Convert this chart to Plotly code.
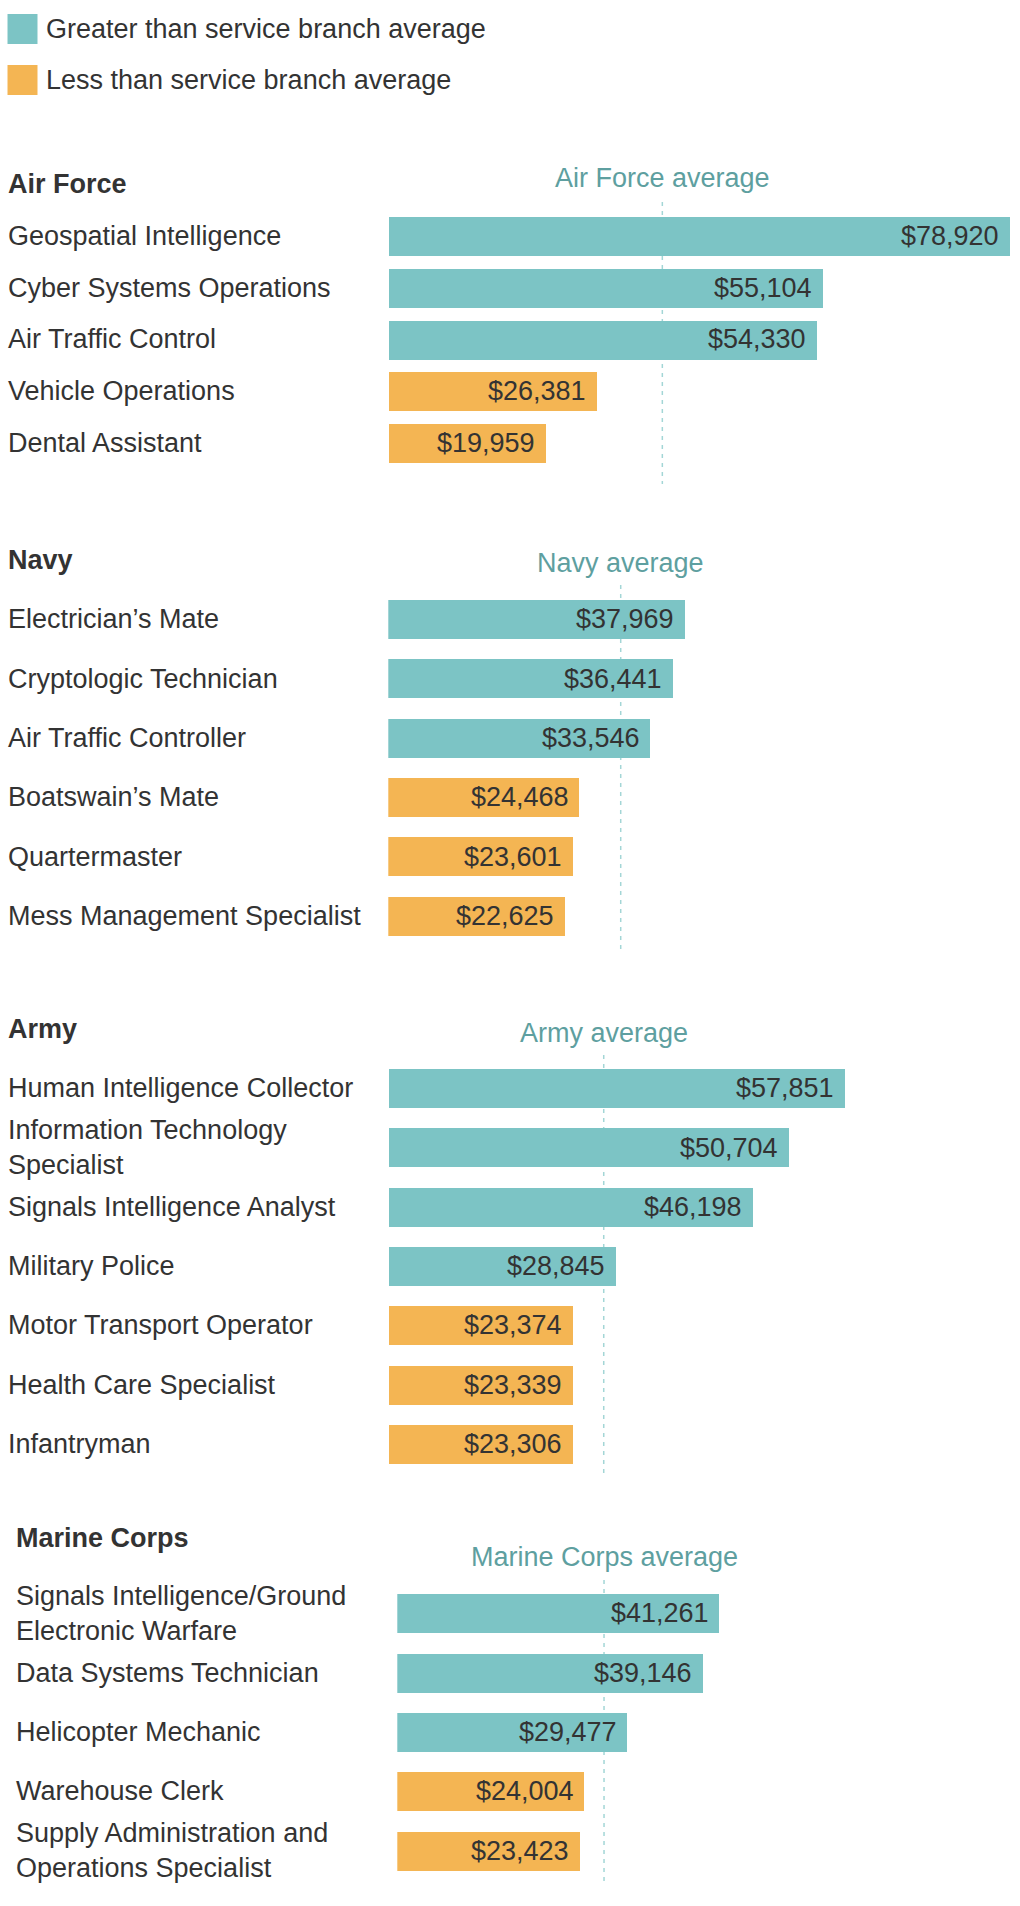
import plotly.graph_objects as go

# ---------------- data ----------------
af_jobs = ["Geospatial Intelligence", "Cyber Systems Operations", "Air Traffic Control",
           "Vehicle Operations", "Dental Assistant"]
af_pay = [78920, 55104, 54330, 26381, 19959]
af_avg = 34730

navy_jobs = ["Electrician’s Mate", "Cryptologic Technician", "Air Traffic Controller",
             "Boatswain’s Mate", "Quartermaster", "Mess Management Specialist"]
navy_pay = [37969, 36441, 33546, 24468, 23601, 22625]
navy_avg = 29720

army_jobs = ["Human Intelligence Collector", "Information Technology<br>Specialist",
             "Signals Intelligence Analyst", "Military Police", "Motor Transport Operator",
             "Health Care Specialist", "Infantryman"]
army_pay = [57851, 50704, 46198, 28845, 23374, 23339, 23306]
army_avg = 27250

marine_jobs = ["Signals Intelligence/Ground<br>Electronic Warfare", "Data Systems Technician",
               "Helicopter Mechanic", "Warehouse Clerk",
               "Supply Administration and<br>Operations Specialist"]
marine_pay = [41261, 39146, 29477, 24004, 23423]
marine_avg = 26470

branch_names = ["Air Force", "Navy", "Army", "Marine Corps"]
legend_labels = ["Greater than service branch average", "Less than service branch average"]

# ---------------- style / layout ----------------
W, H = 1020, 1906
TEAL = "#7cc4c5"
ORANGE = "#f4b553"
AVG_TEXT = "#5e9fa0"
AVG_LINE = "#a3d6d6"
DARK = "#333333"
FONT = "Liberation Sans, Arial, Helvetica, sans-serif"
FS = 27

# per-section geometry (pixels)
sections = [
    dict(jobs=af_jobs, pay=af_pay, avg=af_avg, title_y=184, c0=236.3, pitch=51.6, bar=39,
         x0=389, ppd=0.00787, avg_y=178, line=(202, 484), lx=6),
    dict(jobs=navy_jobs, pay=navy_pay, avg=navy_avg, title_y=560, c0=619.5, pitch=59.3, bar=39,
         x0=388.3, ppd=0.00782, avg_y=563, line=(585, 951), lx=6),
    dict(jobs=army_jobs, pay=army_pay, avg=army_avg, title_y=1029, c0=1088.2, pitch=59.3, bar=39,
         x0=389, ppd=0.00788, avg_y=1033, line=(1055, 1476), lx=6),
    dict(jobs=marine_jobs, pay=marine_pay, avg=marine_avg, title_y=1538, c0=1613.2, pitch=59.4, bar=39,
         x0=397.3, ppd=0.00781, avg_y=1557, line=(1580, 1884), lx=14),
]


def py(px):
    return 1 - px / H


fig = go.Figure()
annotations = []
shapes = []
layout_axes = {}

for i, s in enumerate(sections):
    k = "" if i == 0 else str(i + 1)
    xa, ya = "x" + k, "y" + k
    n = len(s["jobs"])
    top = s["c0"] - s["pitch"] / 2
    bot = s["c0"] + (n - 0.5) * s["pitch"]
    xmax = (W - s["x0"]) / s["ppd"]
    colors = [TEAL if v > s["avg"] else ORANGE for v in s["pay"]]
    fig.add_trace(go.Bar(
        x=s["pay"], y=s["jobs"], orientation="h", xaxis=xa, yaxis=ya,
        marker=dict(color=colors, line=dict(width=0)),
        width=s["bar"] / s["pitch"], hoverinfo="skip", showlegend=False,
    ))
    layout_axes["xaxis" + k] = dict(domain=[s["x0"] / W, 1], range=[0, xmax], visible=False,
                                    anchor=ya, fixedrange=True)
    layout_axes["yaxis" + k] = dict(domain=[py(bot), py(top)], type="category",
                                    categoryorder="array", categoryarray=s["jobs"],
                                    range=[n - 0.5, -0.5], visible=False, anchor=xa,
                                    fixedrange=True)
    for j, v in zip(s["jobs"], s["pay"]):
        annotations.append(dict(text=j, x=s["lx"] / W, xref="paper", xanchor="left",
                                y=j, yref=ya, yanchor="middle", showarrow=False, align="left",
                                font=dict(family=FONT, size=FS, color=DARK)))
        annotations.append(dict(text=f"${v:,}", x=v, xref=xa, xanchor="right", xshift=-9,
                                y=j, yref=ya, yanchor="middle", showarrow=False,
                                font=dict(family=FONT, size=FS, color=DARK)))
    annotations.append(dict(text="<b>" + branch_names[i] + "</b>", x=s["lx"] / W, xref="paper",
                            xanchor="left", y=py(s["title_y"]), yref="paper", yanchor="middle",
                            showarrow=False, font=dict(family=FONT, size=FS, color=DARK)))
    annotations.append(dict(text=branch_names[i] + " average", x=s["avg"], xref=xa,
                            xanchor="center", y=py(s["avg_y"]), yref="paper", yanchor="middle",
                            showarrow=False, font=dict(family=FONT, size=FS, color=AVG_TEXT)))
    shapes.append(dict(type="line", xref=xa, yref="paper", x0=s["avg"], x1=s["avg"],
                       y0=py(s["line"][0]), y1=py(s["line"][1]), layer="below",
                       line=dict(color=AVG_LINE, width=1.5, dash="4px,5px")))

# legend (squares + text)
for lab, col, cy in zip(legend_labels, [TEAL, ORANGE], [29, 80]):
    shapes.append(dict(type="rect", xref="paper", yref="paper", x0=7.5 / W, x1=37.5 / W,
                       y0=py(cy - 15), y1=py(cy + 15), fillcolor=col, line=dict(width=0)))
    annotations.append(dict(text=lab, x=43.5 / W, xref="paper", xanchor="left", y=py(cy),
                            yref="paper", yanchor="middle", showarrow=False,
                            font=dict(family=FONT, size=FS, color=DARK)))

fig.update_layout(
    width=W, height=H, margin=dict(l=0, r=0, t=0, b=0),
    paper_bgcolor="white", plot_bgcolor="rgba(0,0,0,0)",
    annotations=annotations, shapes=shapes, bargap=0,
    font=dict(family=FONT, size=FS, color=DARK),
    **layout_axes,
)

fig.write_html("out.html", config={"displayModeBar": False})
